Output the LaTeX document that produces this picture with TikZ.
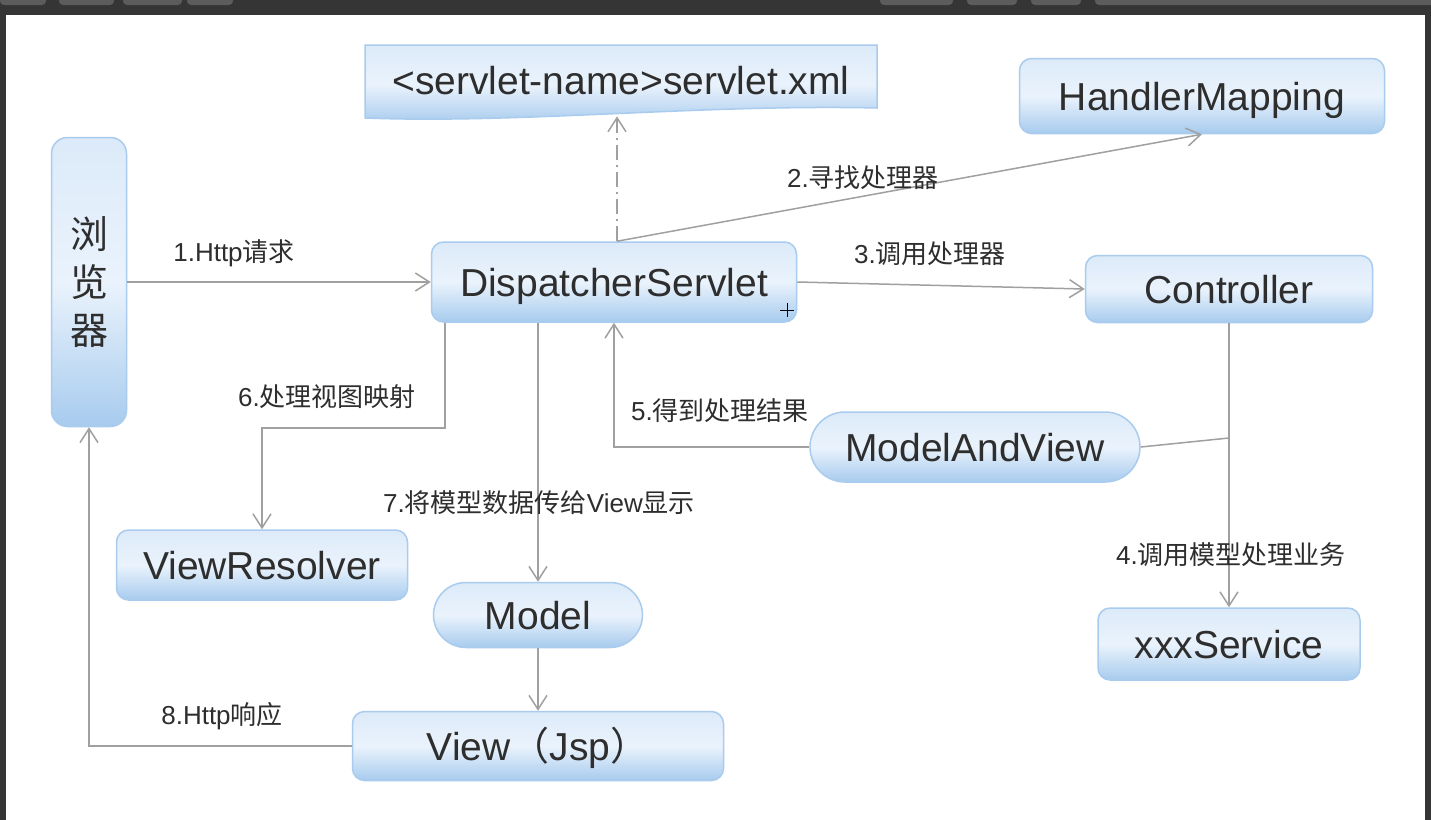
\documentclass[tikz,border=0pt]{standalone}
\usepackage{fontspec}
\setmainfont{Liberation Sans}
\newfontfamily\cjkfont{Noto Sans CJK SC}
\usetikzlibrary{shapes.misc,arrows.meta}
\definecolor{framegray}{HTML}{353535}
\definecolor{tabgray}{HTML}{5C5C5C}
\definecolor{boxline}{HTML}{A9CBEE}
\definecolor{boxtop}{HTML}{DCEAF9}
\definecolor{boxmid}{HTML}{EAF3FC}
\definecolor{boxbot}{HTML}{A7CBEE}
\definecolor{txt}{HTML}{2E2E2E}
\definecolor{wiregray}{HTML}{A0A0A0}
\newcommand\zh[1]{{\cjkfont #1}}

\begin{document}
\begin{tikzpicture}[x=0.5pt,y=-0.5pt,
    blueface/.style={draw=boxline,line width=0.75pt,rounded corners=6pt,top color=boxtop,bottom color=boxbot,middle color=boxmid},
    bigtext/.style={text=txt,font=\fontsize{19.5}{23}\selectfont,inner sep=0pt,text height=14pt,text depth=0pt},
    box/.style={blueface,bigtext},
    pill/.style={box,rounded rectangle,sharp corners},
    lbl/.style={text=txt,font=\fontsize{13}{15}\selectfont,inner sep=0pt},
    wire/.style={draw=wiregray,line width=0.75pt},
    arr/.style={wire,-{Straight Barb[length=7pt,width=9pt]}}]
    \useasboundingbox(0,0)rectangle(1431,820);
    \fill[framegray](0,0)rectangle(1431,820);
    \fill[tabgray,rounded corners=2pt](0,-5)rectangle(46,5);
    \fill[tabgray,rounded corners=2pt](59,-5)rectangle(114,5);
    \fill[tabgray,rounded corners=2pt](123,-5)rectangle(182,5);
    \fill[tabgray,rounded corners=2pt](187,-5)rectangle(233,5);
    \fill[tabgray,rounded corners=2pt](880,-5)rectangle(953,5);
    \fill[tabgray,rounded corners=2pt](967,-5)rectangle(1017,5);
    \fill[tabgray,rounded corners=2pt](1031,-5)rectangle(1081,5);
    \fill[tabgray,rounded corners=2pt](1095,-5)rectangle(1440,5);
    \fill[white](6,15)rectangle(1425,820);
    \shade[blueface,sharp corners](365,45)--(877,45)--(877,108)..controls(700,104)and(520,124)..(365,118)--cycle;
    \node[bigtext,minimum width=256pt,minimum height=36pt](xml)at(621,80){<servlet-name>servlet.xml};
    \node[blueface,minimum width=37.5pt,minimum height=144.5pt,rounded corners=8pt,align=center,inner sep=0pt,text=txt,font=\cjkfont\fontsize{19}{24}\selectfont](browser)at(89,282){浏\\览\\器};
    \node[box,minimum width=182.5pt,minimum height=37.5pt](handler)at(1202,96){HandlerMapping};
    \node[box,minimum width=182.5pt,minimum height=40pt](dispatcher)at(614,282){DispatcherServlet};
    \node[box,minimum width=143.5pt,minimum height=33.5pt](controller)at(1229,289){Controller};
    \node[pill,minimum width=165pt,minimum height=35pt](mav)at(975,447){ModelAndView};
    \node[box,minimum width=145.5pt,minimum height=35pt](resolver)at(262,565){ViewResolver};
    \node[pill,minimum width=104.5pt,minimum height=32.5pt](model)at(538,615){Model};
    \node[box,minimum width=131pt,minimum height=36pt](service)at(1229,644){xxxService};
    \node[box,minimum width=185.5pt,minimum height=34.5pt](view)at(538,746){View\zh{（}Jsp\zh{）}};
    \coordinate(cjoin)at(1229,438);
    \draw[arr](browser.east)--(dispatcher.west);
    \draw[arr,dash pattern=on 7.5pt off 2.5pt on 1pt off 2.5pt]([xshift=1.5pt]dispatcher.north)--([xshift=1.5pt]dispatcher.north|-xml.south);
    \draw[arr]([xshift=1.5pt]dispatcher.north)--(handler.south);
    \draw[arr](dispatcher.east)--(controller.west);
    \draw[arr](controller.south)--(service.north);
    \draw[wire](mav.east)--(cjoin);
    \draw[arr](mav.west)-|(dispatcher.south);
    \draw[arr]([xshift=7pt]dispatcher.south west)--++(0,105)-|(resolver.north);
    \draw[arr](dispatcher.south-|model.north)--(model.north);
    \draw[arr](model.south)--(view.north);
    \draw[arr](view.west)-|(browser.south);
    \node[lbl](l1)at(234,253){1.Http\zh{请求}};
    \node[lbl](l2)at(863,178){2.\zh{寻找处理器}};
    \node[lbl](l3)at(930,254){3.\zh{调用处理器}};
    \node[lbl](l4)at(1231,555){4.\zh{调用模型处理业务}};
    \node[lbl](l5)at(720,411){5.\zh{得到处理结果}};
    \node[lbl](l6)at(327,397){6.\zh{处理视图映射}};
    \node[lbl](l7)at(539,503){7.\zh{将模型数据传给}View\zh{显示}};
    \node[lbl](l8)at(222,716){8.Http\zh{响应}};
    \draw[black,line width=0.5pt](780,310)--(794,310)(787,303)--(787,317);
\end{tikzpicture}
\end{document}
